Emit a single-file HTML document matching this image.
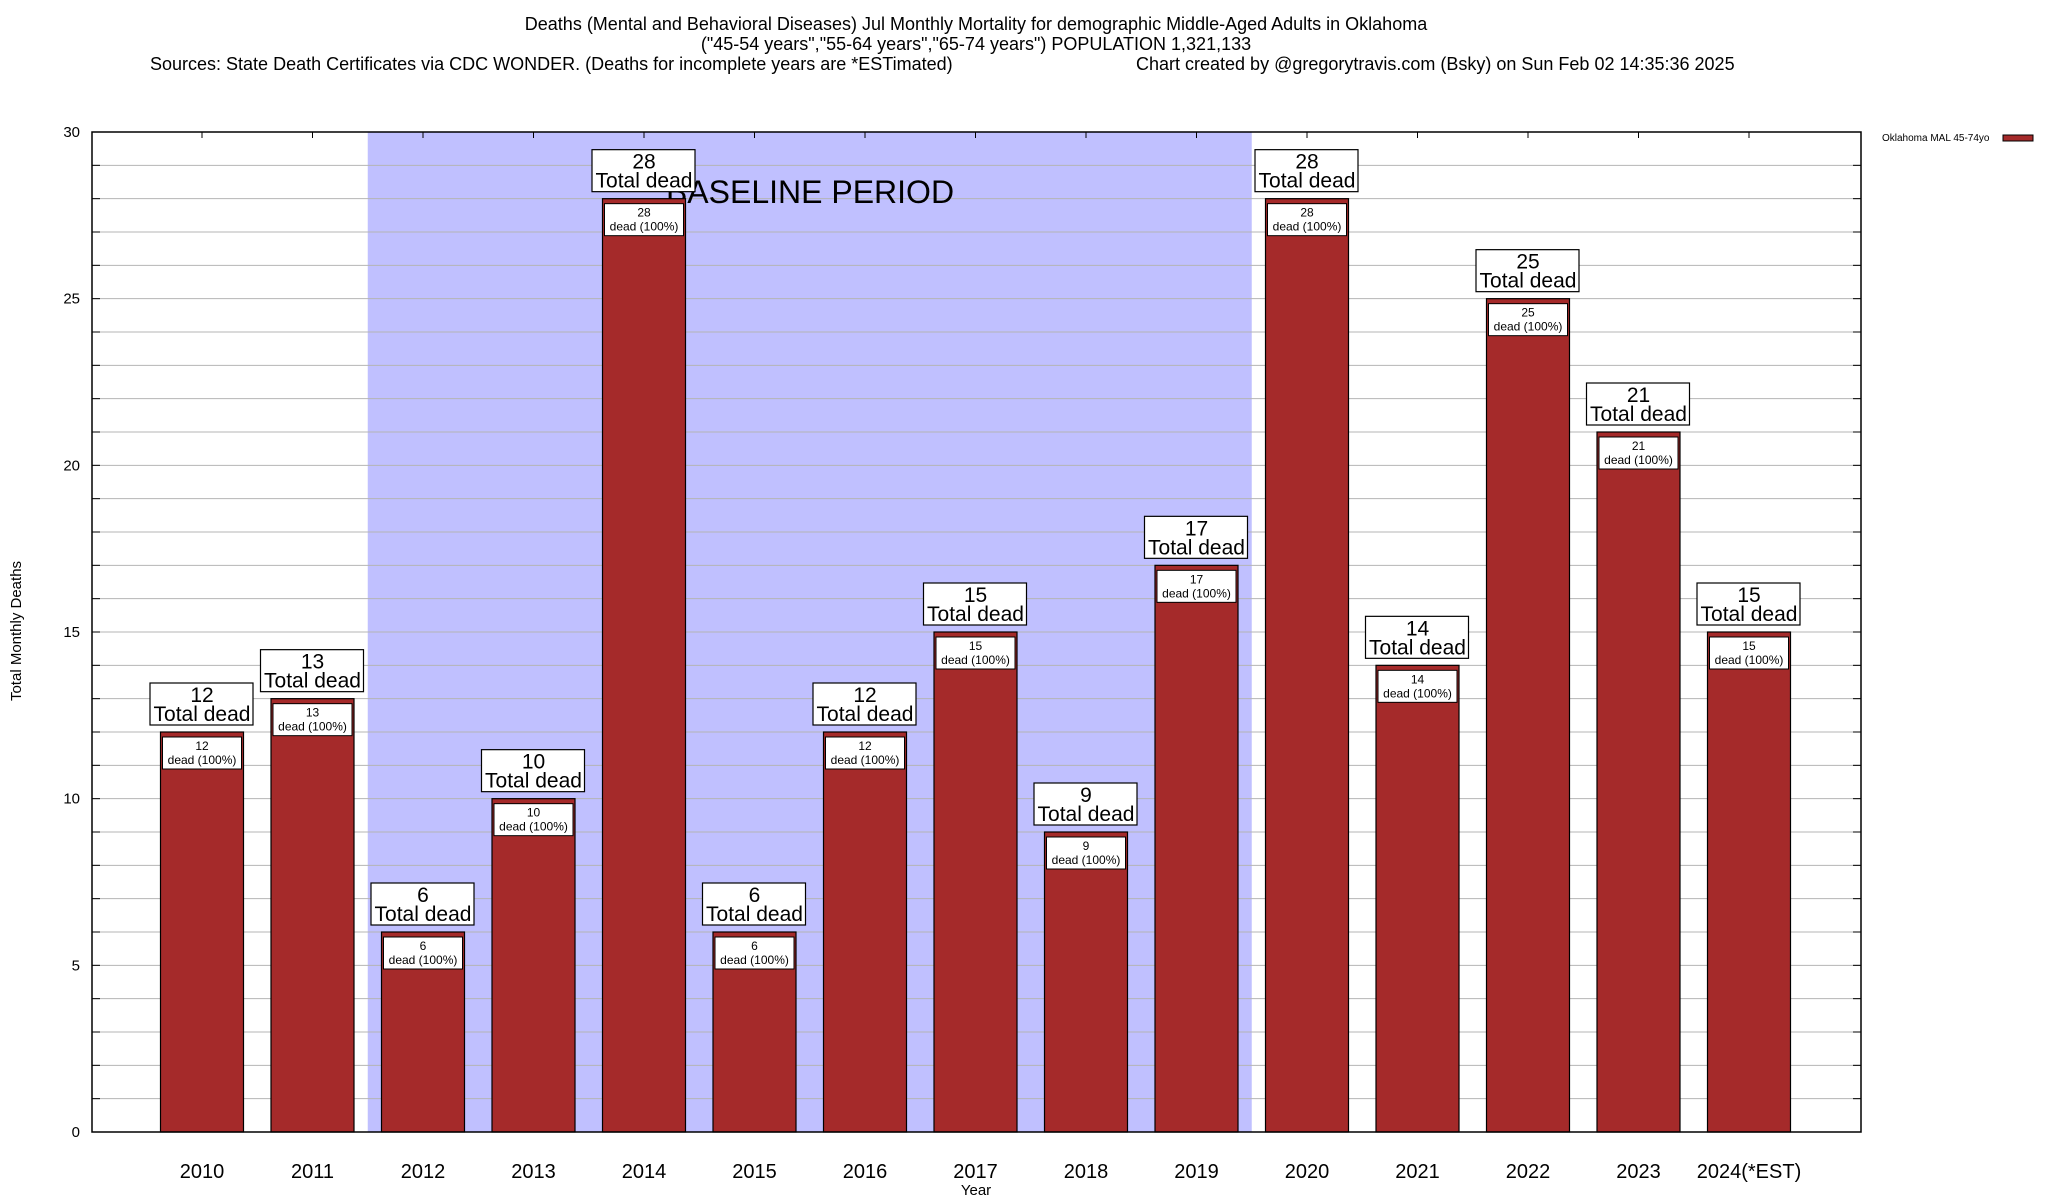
<!DOCTYPE html>
<html><head><meta charset="utf-8"><style>
body{margin:0;background:#fff}
svg{display:block;font-family:"Liberation Sans",sans-serif}
</style></head><body>
<svg id="chart" width="2048" height="1200" viewBox="0 0 2048 1200" xmlns="http://www.w3.org/2000/svg">
<text x="976" y="30" text-anchor="middle" font-size="18">Deaths (Mental and Behavioral Diseases) Jul Monthly Mortality for demographic Middle-Aged Adults in Oklahoma</text>
<text x="976" y="50" text-anchor="middle" font-size="18">("45-54 years","55-64 years","65-74 years") POPULATION 1,321,133</text>
<text x="150" y="70" font-size="18">Sources: State Death Certificates via CDC WONDER. (Deaths for incomplete years are *ESTimated)</text>
<text x="1136" y="70" font-size="18">Chart created by @gregorytravis.com (Bsky) on Sun Feb 02 14:35:36 2025</text>
<g id="plot"></g>
<text x="1882" y="141" font-size="10">Oklahoma MAL 45-74yo</text>
<rect x="2003" y="135" width="30" height="6" fill="#a52a2a" stroke="#000" stroke-width="1"/>
<text transform="translate(21,631) rotate(-90)" text-anchor="middle" font-size="15">Total Monthly Deaths</text>
<text x="976" y="1195" text-anchor="middle" font-size="15">Year</text>
</svg>
<script>
const categories=["2010","2011","2012","2013","2014","2015","2016","2017","2018","2019","2020","2021","2022","2023","2024(*EST)"];
const values=[12,13,6,10,28,6,12,15,9,17,28,14,25,21,15];
const yTicks=[0,5,10,15,20,25,30];
const baselineStart=2, baselineEnd=9;
const NS="http://www.w3.org/2000/svg";
const L=92,R=1861,T=132,B=1132,YMAX=30;
const step=(1749-202)/14;
const xc=i=>202+i*step;
const y=v=>B-(v/YMAX)*(B-T);
const g=document.getElementById('plot');
function mk(tag,attrs,parent){const e=document.createElementNS(NS,tag);for(const k in attrs)e.setAttribute(k,attrs[k]);(parent||g).appendChild(e);return e;}
// baseline shade
const sh=mk('rect',{x:xc(baselineStart)-step/2,y:T,width:(baselineEnd-baselineStart+1)*step,height:B-T,fill:'#c0c0ff'});


// gridlines
for(let v=1;v<YMAX;v++){
  const l=mk('line',{x1:L,x2:R,y1:y(v),y2:y(v),stroke:'#b4b4b4','stroke-width':1});
  
  
  const t1=mk('line',{x1:L,x2:L+8,y1:y(v),y2:y(v),stroke:'#000'});
  
  
  const t2=mk('line',{x1:R-8,x2:R,y1:y(v),y2:y(v),stroke:'#000'});
  
  
}
yTicks.forEach(v=>{
  const t=mk('text',{x:80,y:y(v)+5,'text-anchor':'end','font-size':15});
  t.textContent=v;
  
  
});
const bl=mk('text',{x:810,y:203,'text-anchor':'middle','font-size':32});
bl.textContent='BASELINE PERIOD';


const bw=83;
categories.forEach((c,i)=>{
  const v=values[i],cx=xc(i),top=y(v);
  const tk=mk('line',{x1:cx,x2:cx,y1:T,y2:T+6,stroke:'#000'});
  
  
  const b=mk('rect',{x:cx-bw/2,y:top,width:bw,height:B-top,fill:'#a52a2a',stroke:'#000','stroke-width':1.2});
  
  
  const ib=mk('rect',{x:cx-bw/2+2,y:top+5,width:bw-4,height:32,fill:'#fff',stroke:'#000','stroke-width':1});
  
  
  const it1=mk('text',{x:cx,y:top+18,'text-anchor':'middle','font-size':12});
  it1.textContent=v;
  
  
  const it2=mk('text',{x:cx,y:top+32,'text-anchor':'middle','font-size':12});
  it2.textContent='dead (100%)';
  
  
  const ob=mk('rect',{x:cx-52,y:top-49,width:103,height:42,fill:'#fff',stroke:'#000','stroke-width':1.2});
  
  
  const o1=mk('text',{x:cx,y:top-30,'text-anchor':'middle','font-size':21});
  o1.textContent=v;
  
  
  const o2=mk('text',{x:cx,y:top-11,'text-anchor':'middle','font-size':21});
  o2.textContent='Total dead';
  
  
  const xl=mk('text',{x:cx,y:1178,'text-anchor':'middle','font-size':20});
  xl.textContent=c;
  
  
});
const fr=mk('rect',{x:L,y:T,width:R-L,height:B-T,fill:'none',stroke:'#000','stroke-width':1.5});


</script>
</body></html>
